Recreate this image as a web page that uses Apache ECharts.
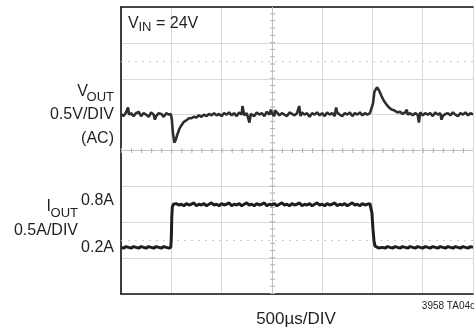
<!DOCTYPE html>
<html>
<head>
<meta charset="utf-8">
<script src="https://cdn.jsdelivr.net/npm/echarts@6/dist/echarts.min.js"></script>
<style>
html,body{margin:0;padding:0;background:#fff;}
#chart{width:474px;height:330px;}
</style>
</head>
<body>
<div id="chart"></div>
<script>
// Time axis in microseconds (500µs/DIV), 7 visible divisions
const timeTicks = [0, 500, 1000, 1500, 2000, 2500, 3000, 3500];
// VOUT (AC coupled), volts, 0.5V/DIV : [time µs, volts]
const vOutTrace = [
[0,0.01],[25,-0.02],[50,0.03],[70,0.1],[80,0.0],[100,0.02],[125,-0.02],[150,0.02],[175,0.04],[200,-0.02],[225,0.02],[250,0.0],[275,-0.03],[300,0.03],[325,0.0],[337,-0.07],[350,-0.02],[375,0.02],[400,0.01],[425,-0.03],[450,0.02],[475,0.0],[495,0.01],
[505,-0.06],[515,-0.24],[530,-0.39],[545,-0.35],[560,-0.28],[580,-0.2],[600,-0.15],[625,-0.1],[650,-0.08],[675,-0.05],[700,-0.05],[725,-0.03],[750,-0.04],[775,-0.01],[800,-0.03],[825,0.0],[850,-0.02],[875,0.01],[900,-0.01],[925,0.02],[950,-0.01],[975,0.01],[1000,-0.02],
[1025,0.02],[1050,0.0],[1075,0.03],[1100,-0.01],[1125,0.02],[1150,-0.02],[1175,0.03],[1200,0.0],[1208,0.12],[1225,-0.01],[1250,0.02],[1277,-0.11],[1290,0.01],[1300,0.02],[1325,-0.02],[1350,0.03],[1375,0.0],[1400,0.02],[1425,-0.02],[1450,0.04],[1475,0.0],[1490,0.07],[1500,0.02],[1525,-0.02],[1530,0.06],[1550,0.03],[1575,-0.01],[1600,0.02],[1625,0.0],[1650,-0.02],[1675,0.03],[1700,0.01],[1725,-0.01],[1750,0.02],[1772,0.12],[1785,-0.02],[1800,0.03],[1825,0.0],[1850,0.02],[1875,-0.03],[1900,0.02],[1925,0.0],[1950,0.03],[1975,-0.01],[2000,0.02],[2025,-0.02],[2050,0.03],[2075,0.0],[2100,0.02],[2125,-0.02],[2139,0.1],[2150,0.03],[2175,0.0],[2200,-0.02],[2225,0.02],[2250,0.0],[2275,0.03],[2300,-0.02],[2325,0.02],[2350,0.0],[2375,0.03],[2400,-0.01],[2425,0.02],[2450,0.0],[2475,0.02],[2490,0.01],
[2505,0.15],[2520,0.32],[2545,0.38],[2565,0.34],[2590,0.26],[2615,0.19],[2640,0.14],[2665,0.1],[2690,0.07],[2715,0.06],[2750,0.03],[2775,0.04],[2800,0.01],[2825,0.03],[2842,0.07],[2850,0.0],[2875,0.02],[2900,-0.01],[2925,0.02],[2950,0.0],[2962,-0.11],[2975,0.03],[3000,-0.01],[3025,0.02],[3050,0.0],[3075,0.02],[3100,-0.02],[3125,0.03],[3150,0.0],[3175,0.02],[3187,-0.07],[3200,-0.02],[3225,0.01],[3250,0.02],[3275,-0.01],[3300,0.03],[3325,0.0],[3350,-0.02],[3375,0.02],[3400,0.0],[3425,0.03],[3450,-0.01],[3475,0.02],[3500,0.0]
];
// IOUT, amps, 0.5A/DIV : [time µs, amps]
const iOutTrace = [
[0,0.2],[25,0.19],[50,0.21],[75,0.2],[100,0.19],[125,0.21],[150,0.2],[175,0.19],[200,0.21],[225,0.2],[250,0.19],[275,0.21],[300,0.2],[325,0.19],[350,0.21],[375,0.2],[400,0.19],[425,0.21],[450,0.2],[475,0.19],[495,0.2],
[500,0.32],[505,0.62],[510,0.76],[520,0.8],
[535,0.78],[550,0.81],[575,0.79],[600,0.8],[625,0.78],[650,0.81],[675,0.79],[700,0.8],[725,0.82],[750,0.78],[775,0.8],[800,0.79],[825,0.81],[850,0.78],[875,0.8],[900,0.82],[925,0.79],[950,0.8],[975,0.78],[1000,0.81],[1025,0.79],[1050,0.8],[1075,0.82],[1100,0.78],[1125,0.8],[1150,0.79],[1175,0.81],[1200,0.78],[1225,0.8],[1250,0.82],[1275,0.79],[1300,0.8],[1325,0.78],[1350,0.81],[1375,0.79],[1400,0.8],[1425,0.82],[1450,0.78],[1475,0.8],[1500,0.79],[1525,0.81],[1550,0.78],[1575,0.8],[1600,0.82],[1625,0.79],[1650,0.8],[1675,0.78],[1700,0.81],[1725,0.79],[1750,0.8],[1775,0.82],[1800,0.78],[1825,0.8],[1850,0.79],[1875,0.81],[1900,0.78],[1925,0.8],[1950,0.82],[1975,0.79],[2000,0.8],[2025,0.78],[2050,0.81],[2075,0.79],[2100,0.8],[2125,0.82],[2150,0.78],[2175,0.8],[2200,0.79],[2225,0.81],[2250,0.78],[2275,0.8],[2300,0.82],[2325,0.79],[2350,0.8],[2375,0.78],[2400,0.81],[2425,0.79],[2450,0.8],[2475,0.81],[2488,0.79],
[2495,0.68],[2505,0.46],[2515,0.3],[2525,0.22],[2540,0.2],
[2560,0.19],[2575,0.21],[2600,0.2],[2625,0.19],[2650,0.21],[2675,0.2],[2700,0.19],[2725,0.21],[2750,0.2],[2775,0.19],[2800,0.21],[2825,0.2],[2850,0.19],[2875,0.21],[2900,0.2],[2925,0.19],[2950,0.21],[2975,0.2],[3000,0.19],[3025,0.21],[3050,0.2],[3075,0.19],[3100,0.21],[3125,0.2],[3150,0.19],[3175,0.21],[3200,0.2],[3225,0.19],[3250,0.21],[3275,0.2],[3300,0.19],[3325,0.21],[3350,0.2],[3375,0.19],[3400,0.21],[3425,0.2],[3450,0.19],[3475,0.21],[3500,0.2]
];
// Vertical (volts) grid: 0.5V/DIV, 8 divisions
const vMin = -2.5, vMax = 1.5, vStep = 0.5;
const centerTime = 1500, centerVolt = -0.5;
const dottedVolts = [0.75, -1.75];

const FONT = '"Liberation Sans", Arial, sans-serif';
const TXT = '#231f20';
const GRID = '#d9d9d9';
const TRACE = '#2e2e2e';

function txt(x, y, s, size, align) {
  return { type: 'text', x: x, y: y, silent: true, z: 100,
    style: { text: s, fill: TXT, font: size + 'px ' + FONT, align: align || 'left', verticalAlign: 'middle' } };
}

const chart = echarts.init(document.getElementById('chart'), null, { renderer: 'canvas' });
chart.setOption({
  animation: false,
  backgroundColor: '#fff',
  grid: { left: 121, top: 7, width: 352, height: 287, containLabel: false },
  xAxis: [
    { type: 'value', min: timeTicks[0], max: timeTicks[timeTicks.length - 1], interval: 500, position: 'bottom',
      axisLine: { show: true, onZero: false, lineStyle: { color: '#111', width: 1.6 } },
      axisTick: { show: false }, axisLabel: { show: false },
      splitLine: { show: true, lineStyle: { color: GRID, width: 1 } } },
    { type: 'value', min: timeTicks[0], max: timeTicks[timeTicks.length - 1], interval: 500, position: 'top',
      axisLine: { show: true, onZero: false, lineStyle: { color: '#111', width: 1.6 } },
      axisTick: { show: false }, axisLabel: { show: false }, splitLine: { show: false } }
  ],
  yAxis: [
    { type: 'value', min: vMin, max: vMax, interval: vStep, position: 'left',
      axisLine: { show: true, onZero: false, lineStyle: { color: '#111', width: 1.6 } },
      axisTick: { show: false }, axisLabel: { show: false },
      splitLine: { show: true, lineStyle: { color: GRID, width: 1 } } },
    { type: 'value', min: -0.45, max: 3.55, show: false, splitLine: { show: false } }
  ],
  series: [
    { type: 'line', silent: true, xAxisIndex: 0, yAxisIndex: 0, data: [], z: 1,
      markLine: { silent: true, symbol: 'none', animation: false, label: { show: false },
        data: [
          { xAxis: centerTime, lineStyle: { color: '#c4c4c4', width: 1, type: 'solid' } },
          { yAxis: centerVolt, lineStyle: { color: '#c4c4c4', width: 1, type: 'solid' } },
          { xAxis: centerTime, lineStyle: { color: '#b0b0b0', width: 5, type: [1, 6.175] } },
          { yAxis: centerVolt, lineStyle: { color: '#b0b0b0', width: 5, type: [1, 9.057] } },
          { yAxis: dottedVolts[0], lineStyle: { color: '#cdcdcd', width: 1, type: [2, 5] } },
          { yAxis: dottedVolts[1], lineStyle: { color: '#cdcdcd', width: 1, type: [2, 5] } }
        ] } },
    { name: 'VOUT', type: 'line', xAxisIndex: 0, yAxisIndex: 0, data: vOutTrace, showSymbol: false, symbol: 'none',
      silent: true, lineStyle: { color: TRACE, width: 2.6 }, z: 5 },
    { name: 'IOUT', type: 'line', xAxisIndex: 0, yAxisIndex: 1, data: iOutTrace, showSymbol: false, symbol: 'none',
      silent: true, lineStyle: { color: '#1e1e1e', width: 3 }, z: 5 }
  ],
  graphic: [
    txt(128, 24, 'V', 16), txt(138.5, 27.5, 'IN', 13), txt(156, 24, '= 24V', 16),
    txt(88, 91.5, 'V', 16, 'right'), txt(114, 97.5, 'OUT', 13, 'right'),
    txt(114, 115, '0.5V/DIV', 16, 'right'),
    txt(114, 139, '(AC)', 16, 'right'),
    txt(51, 207, 'I', 16, 'right'), txt(78, 213, 'OUT', 13, 'right'),
    txt(114, 201, '0.8A', 16, 'right'),
    txt(78, 230.5, '0.5A/DIV', 16, 'right'),
    txt(114, 247.5, '0.2A', 16, 'right'),
    txt(296, 319, '500µs/DIV', 17, 'center'),
    txt(475, 306, '3958 TA04c', 10, 'right')
  ]
});
</script>
</body>
</html>
